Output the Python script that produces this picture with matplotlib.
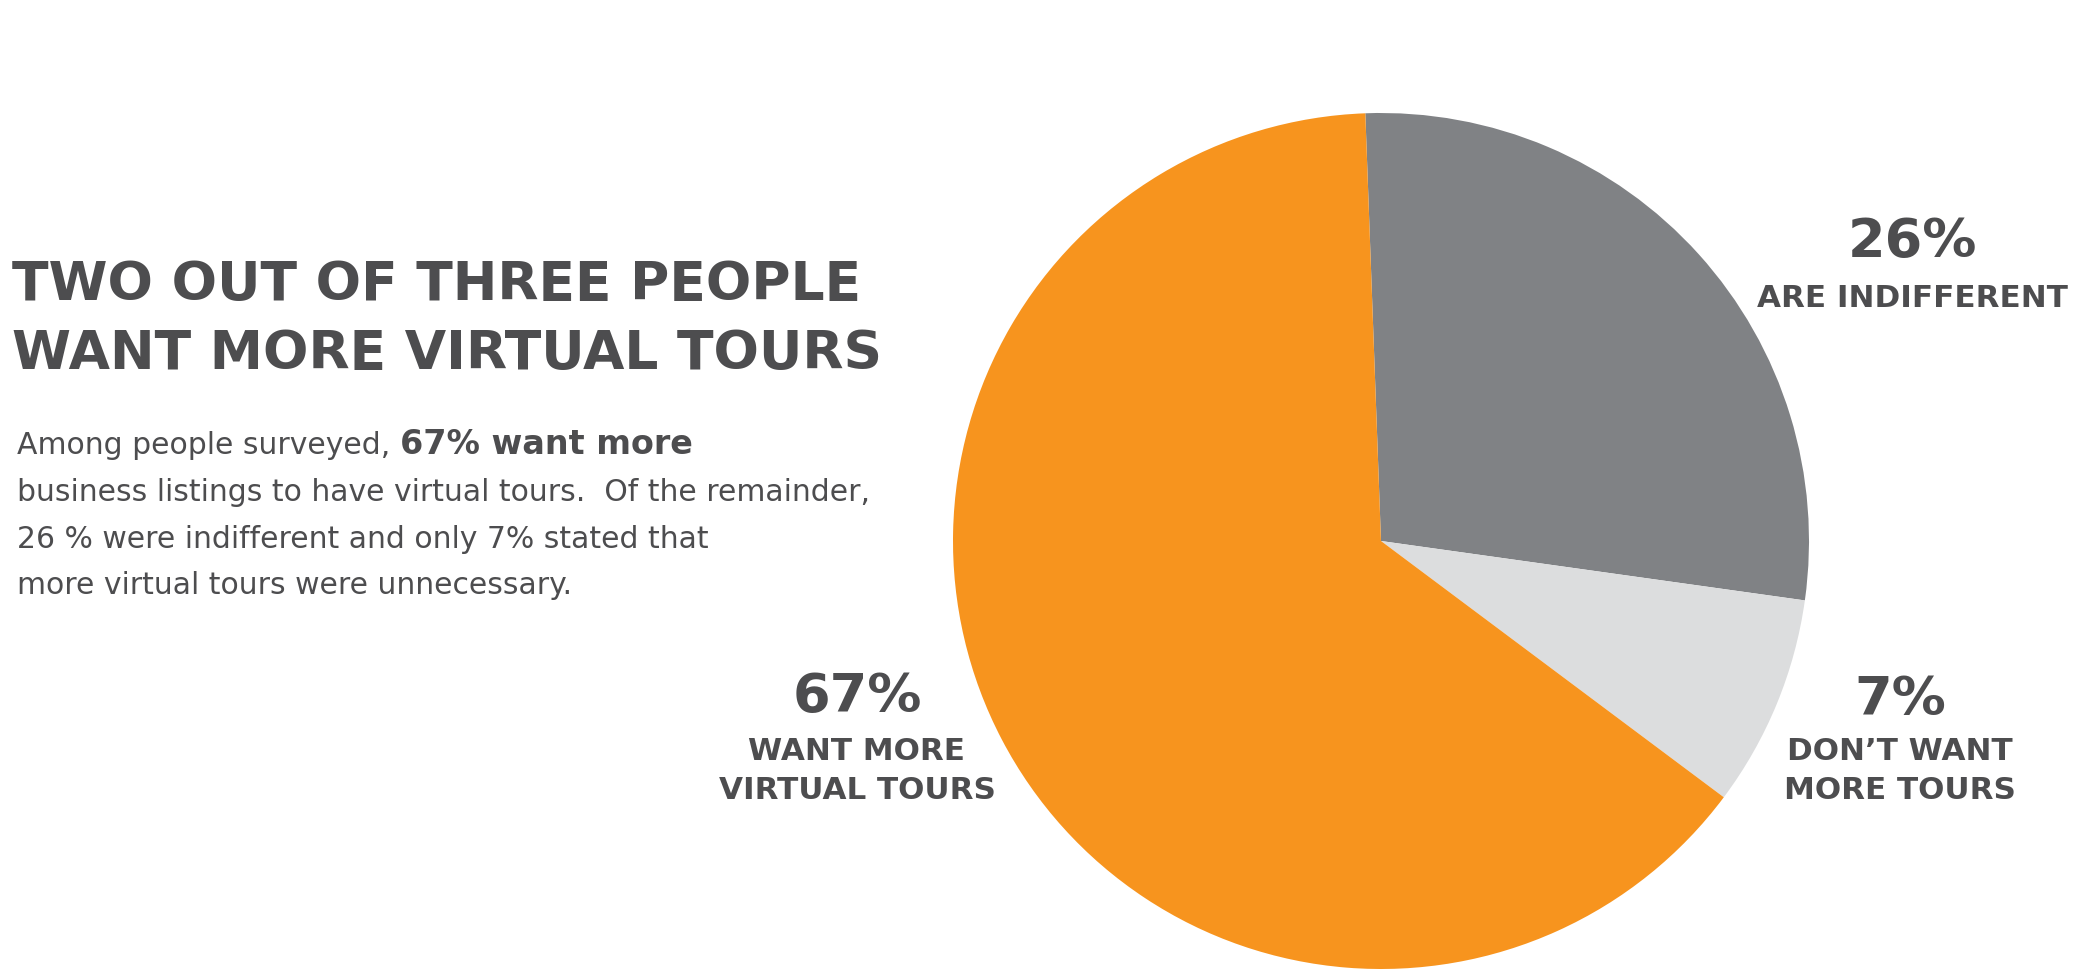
import matplotlib
matplotlib.use("Agg")
import matplotlib.pyplot as plt

# Figure size in pixels (saved at dpi=100)
W, H = 2088, 971
OUT_FILE = "out.png"

# Slice shares as drawn in the reference (clockwise from the top)
slice_names = ["Are indifferent", "Don't want more tours", "Want more virtual tours"]
slice_shares = [27.8, 8.0, 64.2]
slice_colors = ["#808285", "#DCDDDE", "#F7941E"]

# Label text
pct_labels = ["26%", "7%", "67%"]
sub_labels = ["ARE INDIFFERENT", "DON\u2019T WANT\nMORE TOURS", "WANT MORE\nVIRTUAL TOURS"]

title_lines = ["TWO OUT OF THREE PEOPLE", "WANT MORE VIRTUAL TOURS"]
body_first_normal = "Among people surveyed, "
body_first_bold = "67% want more"
body_lines = [
    "business listings to have virtual tours.  Of the remainder,",
    "26 % were indifferent and only 7% stated that",
    "more virtual tours were unnecessary.",
]

TEXT_COLOR = "#4D4D4F"
FONT = "DejaVu Sans"
BODY_SIZE = 21.5


def fx(x):
    return x / W


def fy(y):
    return 1 - y / H


def draw_pie(fig):
    """Pie placed so its centre and radius match the reference."""
    cx, cy, r = 1381, 541, 428
    ax = fig.add_axes([fx(cx - r), fy(cy + r), 2 * r / W, 2 * r / H])
    ax.pie(slice_shares, colors=slice_colors, startangle=92.1, counterclock=False,
           radius=1.0, wedgeprops=dict(linewidth=0))
    ax.set_xlim(-1, 1)
    ax.set_ylim(-1, 1)
    ax.set_aspect("equal")
    ax.axis("off")


def draw_labels(fig):
    # (centre x, baseline of pct, baseline of first sub line)
    spots = [(1912, 257, 307), (1900, 715, 760), (857, 712, 760)]
    for (x, yp, ys), pct, sub in zip(spots, pct_labels, sub_labels):
        fig.text(fx(x), fy(yp), pct, ha="center", va="baseline", fontsize=39,
                 fontweight="bold", color=TEXT_COLOR, family=FONT)
        for i, line in enumerate(sub.split("\n")):
            fig.text(fx(x), fy(ys + i * 39), line, ha="center", va="baseline",
                     fontsize=22.3, fontweight="bold", color=TEXT_COLOR, family=FONT)


def draw_text_block(fig):
    for i, line in enumerate(title_lines):
        fig.text(fx(12), fy(300 + i * 69), line, ha="left", va="baseline", fontsize=38.5,
                 fontweight="bold", color=TEXT_COLOR, family=FONT)

    # First body line has a bold tail, place it after the normal part
    t = fig.text(fx(17), fy(454), body_first_normal, ha="left", va="baseline",
                 fontsize=BODY_SIZE, color=TEXT_COLOR, family=FONT)
    fig.canvas.draw()
    bb = t.get_window_extent()
    fig.text(bb.x1 / W, fy(454), body_first_bold, ha="left", va="baseline",
             fontsize=BODY_SIZE + 2.5, fontweight="bold", color=TEXT_COLOR, family=FONT)

    for i, line in enumerate(body_lines):
        fig.text(fx(17), fy(501 + i * 46.5), line, ha="left", va="baseline",
                 fontsize=BODY_SIZE, color=TEXT_COLOR, family=FONT)


def main():
    fig = plt.figure(figsize=(W / 100, H / 100), dpi=100)
    fig.patch.set_facecolor("white")
    draw_pie(fig)
    draw_labels(fig)
    draw_text_block(fig)
    fig.savefig(OUT_FILE, dpi=100, facecolor="white")
    plt.close(fig)
    print(f"Saved plot: {OUT_FILE}")


if __name__ == "__main__":
    main()
